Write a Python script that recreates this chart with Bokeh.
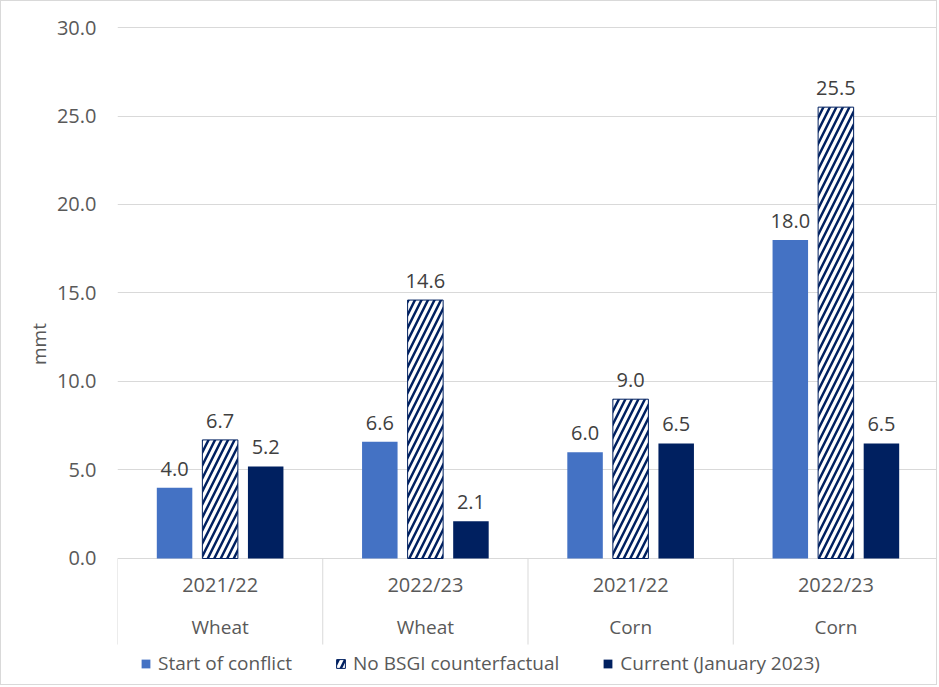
from bokeh.plotting import figure
from bokeh.models import ColumnDataSource, FixedTicker, PrintfTickFormatter, Legend, LegendItem
from bokeh.core.properties import value
from bokeh.embed import file_html
from bokeh.resources import INLINE

# dane
years = ["2021/22", "2022/23", "2021/22", "2022/23"]
crops = ["Wheat", "Wheat", "Corn", "Corn"]
start_of_conflict = [4.0, 6.6, 6.0, 18.0]
no_bsgi = [6.7, 14.6, 9.0, 25.5]
current_jan23 = [5.2, 2.1, 6.5, 6.5]
y_ticks = [0, 5, 10, 15, 20, 25, 30]

FONT = "Open Sans"
BLUE = "#4472C4"
NAVY = "#002060"
GRID = "#d9d9d9"

x = [i + 0.5 for i in range(len(years))]
src = ColumnDataSource(dict(
    x=x,
    x1=[v - 0.222 for v in x],
    x3=[v + 0.222 for v in x],
    start=start_of_conflict,
    nob=no_bsgi,
    cur=current_jan23,
    start_lbl=["%.1f" % v for v in start_of_conflict],
    nob_lbl=["%.1f" % v for v in no_bsgi],
    cur_lbl=["%.1f" % v for v in current_jan23],
    years=years,
    crops=crops,
))

p = figure(width=937, height=685, x_range=(0, 4), y_range=(-7.232, 31.469),
           output_backend="svg", toolbar_location=None,
           min_border_left=116, min_border_right=0, min_border_top=0, min_border_bottom=0)
p.styles = {"border": "1px solid #d9d9d9"}
p.outline_line_color = None
p.xaxis.visible = False
p.xgrid.visible = False

ya = p.yaxis[0]
ya.ticker = FixedTicker(ticks=y_ticks)
ya.formatter = PrintfTickFormatter(format="%.1f")
ya.axis_line_color = None
ya.major_tick_line_color = None
ya.minor_tick_line_color = None
ya.major_label_standoff = 15
ya.major_label_text_font = FONT
ya.major_label_text_font_size = "20px"
ya.major_label_text_color = "#595959"
ya.axis_label = "mmt"
ya.axis_label_text_font = FONT
ya.axis_label_text_font_size = "19px"
ya.axis_label_text_font_style = "normal"
ya.axis_label_text_color = "#595959"
ya.axis_label_standoff = 2
p.ygrid.ticker = FixedTicker(ticks=y_ticks)
p.ygrid.grid_line_color = GRID

w = 0.173
r1 = p.vbar(x="x1", top="start", width=w, source=src, fill_color=BLUE, line_color=None)
r2 = p.vbar(x="x", top="nob", width=w, source=src, fill_color="white", line_color=NAVY,
            hatch_pattern="/", hatch_color=NAVY, hatch_scale=13, hatch_weight=2.5)
r3 = p.vbar(x="x3", top="cur", width=w, source=src, fill_color=NAVY, line_color=None)

# etykiety wartości
for col, top, lbl in [("x1", "start", "start_lbl"), ("x", "nob", "nob_lbl"), ("x3", "cur", "cur_lbl")]:
    p.text(x=col, y=top, text=lbl, source=src, text_align="center", text_baseline="alphabetic",
           y_offset=-19, text_font=value(FONT), text_font_size="20px", text_color="#404040")

# oś kategorii
p.segment(x0=[0, 1, 2, 3, 4], y0=[0] * 5, x1=[0, 1, 2, 3, 4], y1=[-4.86] * 5,
          line_color=GRID, line_width=1)
p.text(x="x", y=-1.47, text="years", source=src, text_align="center", text_baseline="alphabetic",
       text_font=value(FONT), text_font_size="20px", text_color="#595959")
p.text(x="x", y=-3.85, text="crops", source=src, text_align="center", text_baseline="alphabetic",
       text_font=value(FONT), text_font_size="19px", text_color="#595959")

legend = Legend(items=[
    LegendItem(label="Start of conflict", renderers=[r1]),
    LegendItem(label="No BSGI counterfactual", renderers=[r2]),
    LegendItem(label="Current (January 2023)", renderers=[r3]),
], orientation="horizontal", location=(23, 10), padding=0, margin=0, spacing=43,
    glyph_width=11, glyph_height=11, label_standoff=7, label_height=20,
    label_text_font=FONT, label_text_font_size="19px", label_text_color="#595959",
    border_line_color=None, background_fill_alpha=0)
p.add_layout(legend)

open("out.html", "w").write(file_html(p, INLINE))
